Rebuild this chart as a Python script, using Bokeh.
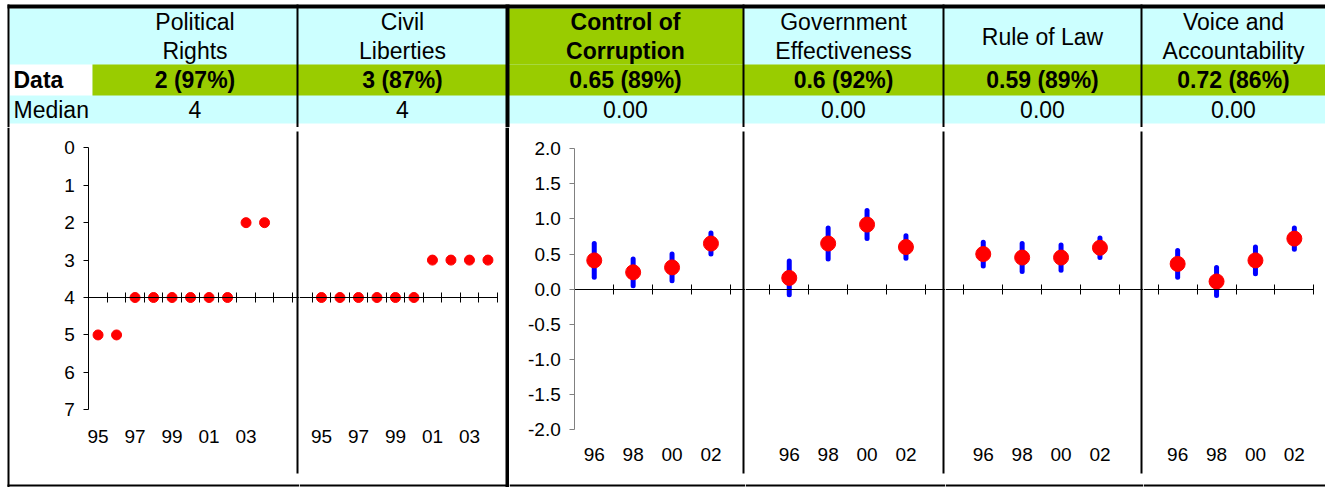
from bokeh.plotting import figure
from bokeh.models import Range1d, LinearAxis, FixedTicker, PrintfTickFormatter, ColumnDataSource
from bokeh.layouts import column, row
from bokeh.embed import file_html
from bokeh.resources import INLINE
from bokeh.core.properties import value

# ---------------- data ----------------
indicators = ["Political\nRights", "Civil\nLiberties", "Control of\nCorruption",
              "Government\nEffectiveness", "Rule of Law", "Voice and\nAccountability"]
selected_indicator = "Control of\nCorruption"
data_labels = ["2 (97%)", "3 (87%)", "0.65 (89%)", "0.6 (92%)", "0.59 (89%)", "0.72 (86%)"]
median_labels = ["4", "4", "0.00", "0.00", "0.00", "0.00"]

pr_axis_years = ["95", "96", "97", "98", "99", "00", "01", "02", "03", "04", "05"]
cl_axis_years = ["95", "96", "97", "98", "99", "00", "01", "02", "03", "04"]
pr_scores = [5, 5, 4, 4, 4, 4, 4, 4, 2, 2]
cl_scores = [4, 4, 4, 4, 4, 4, 3, 3, 3, 3]
fh_yticks = [0, 1, 2, 3, 4, 5, 6, 7]
fh_median = 4

wgi_years = ["96", "98", "00", "02"]
cc_est = [0.41, 0.24, 0.31, 0.65]
cc_err = [0.24, 0.19, 0.19, 0.15]
ge_est = [0.16, 0.65, 0.92, 0.60]
ge_err = [0.24, 0.22, 0.20, 0.16]
rl_est = [0.50, 0.45, 0.45, 0.59]
rl_err = [0.17, 0.20, 0.18, 0.14]
va_est = [0.36, 0.11, 0.41, 0.72]
va_err = [0.19, 0.20, 0.19, 0.15]
wgi_yticks = [-2.0, -1.5, -1.0, -0.5, 0.0, 0.5, 1.0, 1.5, 2.0]
wgi_median = 0.0

# ---------------- layout / style ----------------
FONT = "Liberation Sans"
HEAD_FS = "23px"
TICK_FS = "19px"
CYAN = "#CCFFFF"
GREEN = "#99CC00"
RED = "#FF0000"
BLUE = "#0000FF"

W = 1325
HEAD_H = 127
PANEL_H = 360
Y0 = HEAD_H  # page y of panel canvas top

panel_edges = [0, 299, 509, 745, 945, 1143, 1325]
text_edges = [9, 92, 297, 507, 743, 943, 1141, 1325]
axis_origin = [88.3, 311.7, 574.3, 769.3, 963.3, 1157.7]
cat_width = [18.5, 18.5, 38.9, 38.9, 38.9, 38.9]

# vertical separators (page x-left, x-right, full height?)
separators = [(7, 9, True), (296, 298, False), (505, 509, True),
              (742, 744, False), (942, 944, False), (1140, 1142, False)]
SEP_TOP, SEP_BOT = 4, 346

TOP_B0, TOP_B, R1, R2, R3 = 4, 8, 64, 95, 123
TITLE_LINE = 29


def fig(w, h, xr, yr):
    return figure(width=w, height=h, x_range=xr, y_range=yr, toolbar_location=None,
                  output_backend="svg", min_border=0, x_axis_type=None, y_axis_type=None,
                  outline_line_color=None, background_fill_color="white",
                  border_fill_color="white")


# ---------------- header table ----------------
head = fig(W, HEAD_H, Range1d(0, W), Range1d(HEAD_H, 0))
L = text_edges[0]
head.quad(left=[L], right=[W], top=[TOP_B], bottom=[R3], color=CYAN, line_width=0)
sel = indicators.index(selected_indicator)
head.quad(left=[text_edges[sel + 1]], right=[text_edges[sel + 2]], top=[TOP_B], bottom=[R1],
          color=GREEN, line_width=0)
head.quad(left=[L], right=[text_edges[1]], top=[R1], bottom=[R2], color="white", line_width=0)
head.quad(left=[text_edges[1]], right=[W], top=[R1], bottom=[R2], color=GREEN, line_width=0)
head.quad(left=[separators[0][0]], right=[W], top=[TOP_B0], bottom=[TOP_B], color="black", line_width=0)
for (a, b, full) in separators:
    head.quad(left=[a], right=[b], top=[TOP_B0], bottom=[HEAD_H], color="black", line_width=0)

centers = [(text_edges[i + 1] + text_edges[i + 2]) / 2 for i in range(len(indicators))]
tx, ty, tt, ts = [], [], [], []
for c, name in zip(centers, indicators):
    lines = name.split("\n")
    for j, ln in enumerate(lines):
        tx.append(c)
        ty.append((TOP_B + R1) / 2 + (j - (len(lines) - 1) / 2) * TITLE_LINE)
        tt.append(ln)
        ts.append("bold" if name == selected_indicator else "normal")
title_src = ColumnDataSource(dict(x=tx, y=ty, text=tt, style=ts))
head.text(x="x", y="y", text="text", source=title_src, text_font=value(FONT),
          text_font_size=HEAD_FS, text_font_style="style", text_align="center",
          text_baseline="middle", text_color="black")
head.text(x=centers, y=[(R1 + R2) / 2] * len(indicators), text=data_labels, text_font=value(FONT),
          text_font_size=HEAD_FS, text_font_style="bold", text_align="center",
          text_baseline="middle", text_color="black")
head.text(x=centers, y=[(R2 + R3) / 2] * len(indicators), text=median_labels, text_font=value(FONT),
          text_font_size=HEAD_FS, text_align="center", text_baseline="middle", text_color="black")
head.text(x=[13], y=[(R1 + R2) / 2], text=["Data"], text_font=value(FONT), text_font_size=HEAD_FS,
          text_font_style="bold", text_align="left", text_baseline="middle", text_color="black")
head.text(x=[13], y=[(R2 + R3) / 2], text=["Median"], text_font=value(FONT), text_font_size=HEAD_FS,
          text_align="left", text_baseline="middle", text_color="black")


# ---------------- panels ----------------
def y_mapper(v_top, py_top, v_bot, py_bot):
    # maps page y (reference pixel rows) to the value axis of a panel
    per = (v_bot - v_top) / (py_bot - py_top)
    return lambda cy: v_top + (cy + Y0 - py_top) * per

fh_y = y_mapper(0, 147.3, 7, 409.3)
wgi_y = y_mapper(2.0, 148.3, -2.0, 429.0)
FH_LABEL_TOP = 437 - 8 - Y0
WGI_LABEL_TOP = 455 - 8 - Y0


def make_panel(i, ymap):
    left, right = panel_edges[i], panel_edges[i + 1]
    w = right - left
    cw = cat_width[i]
    x0 = -0.5 - (axis_origin[i] - left) / cw
    x1 = x0 + w / cw
    px = lambda page: x0 + (page - left) / cw
    p = fig(w, PANEL_H, Range1d(x0, x1), Range1d(ymap(PANEL_H), ymap(0)))
    for (a, b, full) in separators:
        if b > left and a < right:
            t, bt = (0, PANEL_H) if full else (SEP_TOP, SEP_BOT)
            p.quad(left=[px(a)], right=[px(b)], top=[ymap(t)], bottom=[ymap(bt)],
                   color="black", line_width=0)
    bl = px(separators[0][0]) if i == 0 else x0
    p.quad(left=[bl], right=[x1], top=[ymap(PANEL_H - 3)], bottom=[ymap(PANEL_H - 1)],
           color="black", line_width=0)
    return p, x0, x1


def cross_axis(p, loc, ncat, bounds):
    ax = LinearAxis(fixed_location=loc, ticker=FixedTicker(ticks=[k - 0.5 for k in range(ncat + 1)]),
                    bounds=bounds, axis_line_color="black", axis_line_width=1,
                    major_tick_line_color="black", major_tick_in=5, major_tick_out=5,
                    minor_tick_line_color=None, major_label_text_color=None)
    p.add_layout(ax, "below")


def label_axis(p, loc, years, n, step):
    ticks = list(range(0, n, step))
    ax = LinearAxis(fixed_location=loc, ticker=FixedTicker(ticks=ticks),
                    major_label_overrides={t: years[t] for t in ticks},
                    axis_line_color=None, major_tick_line_color=None, major_tick_in=0,
                    major_tick_out=0, minor_tick_line_color=None, major_label_standoff=0,
                    major_label_text_font=FONT, major_label_text_font_size=TICK_FS,
                    major_label_text_color="black")
    p.add_layout(ax, "below")


def y_axis(p, ticks, bounds, color, fmt=None):
    kw = dict(fixed_location=-0.5, bounds=bounds, ticker=FixedTicker(ticks=ticks),
              axis_line_color=color, major_tick_line_color=color, major_tick_out=5,
              major_tick_in=0, minor_tick_line_color=None, major_label_standoff=9,
              major_label_text_font=FONT, major_label_text_font_size=TICK_FS,
              major_label_text_color="black")
    if fmt is not None:
        kw["formatter"] = fmt
    p.add_layout(LinearAxis(**kw), "left")


panels = []

# Political Rights
p1, a, b = make_panel(0, fh_y)
y_axis(p1, fh_yticks, (min(fh_yticks), max(fh_yticks)), "black")
cross_axis(p1, fh_median, len(pr_axis_years), (-0.5, b))
label_axis(p1, fh_y(FH_LABEL_TOP), pr_axis_years, len(pr_scores), 2)
p1.scatter(x=list(range(len(pr_scores))), y=pr_scores, size=10, color=RED)
panels.append(p1)

# Civil Liberties
p2, a, b = make_panel(1, fh_y)
cross_axis(p2, fh_median, len(cl_axis_years), (a, len(cl_axis_years) - 0.5))
label_axis(p2, fh_y(FH_LABEL_TOP), cl_axis_years, len(cl_scores), 2)
p2.scatter(x=list(range(len(cl_scores))), y=cl_scores, size=10, color=RED)
panels.append(p2)

wgi_sets = [(cc_est, cc_err), (ge_est, ge_err), (rl_est, rl_err), (va_est, va_err)]
for k, (est, err) in enumerate(wgi_sets):
    idx = k + 2
    p, a, b = make_panel(idx, wgi_y)
    n = len(wgi_years)
    if k == 0:
        y_axis(p, wgi_yticks, (min(wgi_yticks), max(wgi_yticks)), "#808080",
               PrintfTickFormatter(format="%.1f"))
        bounds = (-0.5, b)
    elif k == len(wgi_sets) - 1:
        bounds = (a, n - 0.5)
    else:
        bounds = "auto"
    cross_axis(p, wgi_median, n, bounds)
    label_axis(p, wgi_y(WGI_LABEL_TOP), wgi_years, n, 1)
    xs = list(range(n))
    lo = [e - d for e, d in zip(est, err)]
    hi = [e + d for e, d in zip(est, err)]
    p.segment(x0=xs, y0=lo, x1=xs, y1=hi, line_width=5, line_color=BLUE, line_cap="round")
    p.scatter(x=xs, y=est, size=15, color=RED)
    panels.append(p)

layout = column(head, row(*panels, spacing=0), spacing=0)
open("out.html", "w").write(file_html(layout, INLINE))
